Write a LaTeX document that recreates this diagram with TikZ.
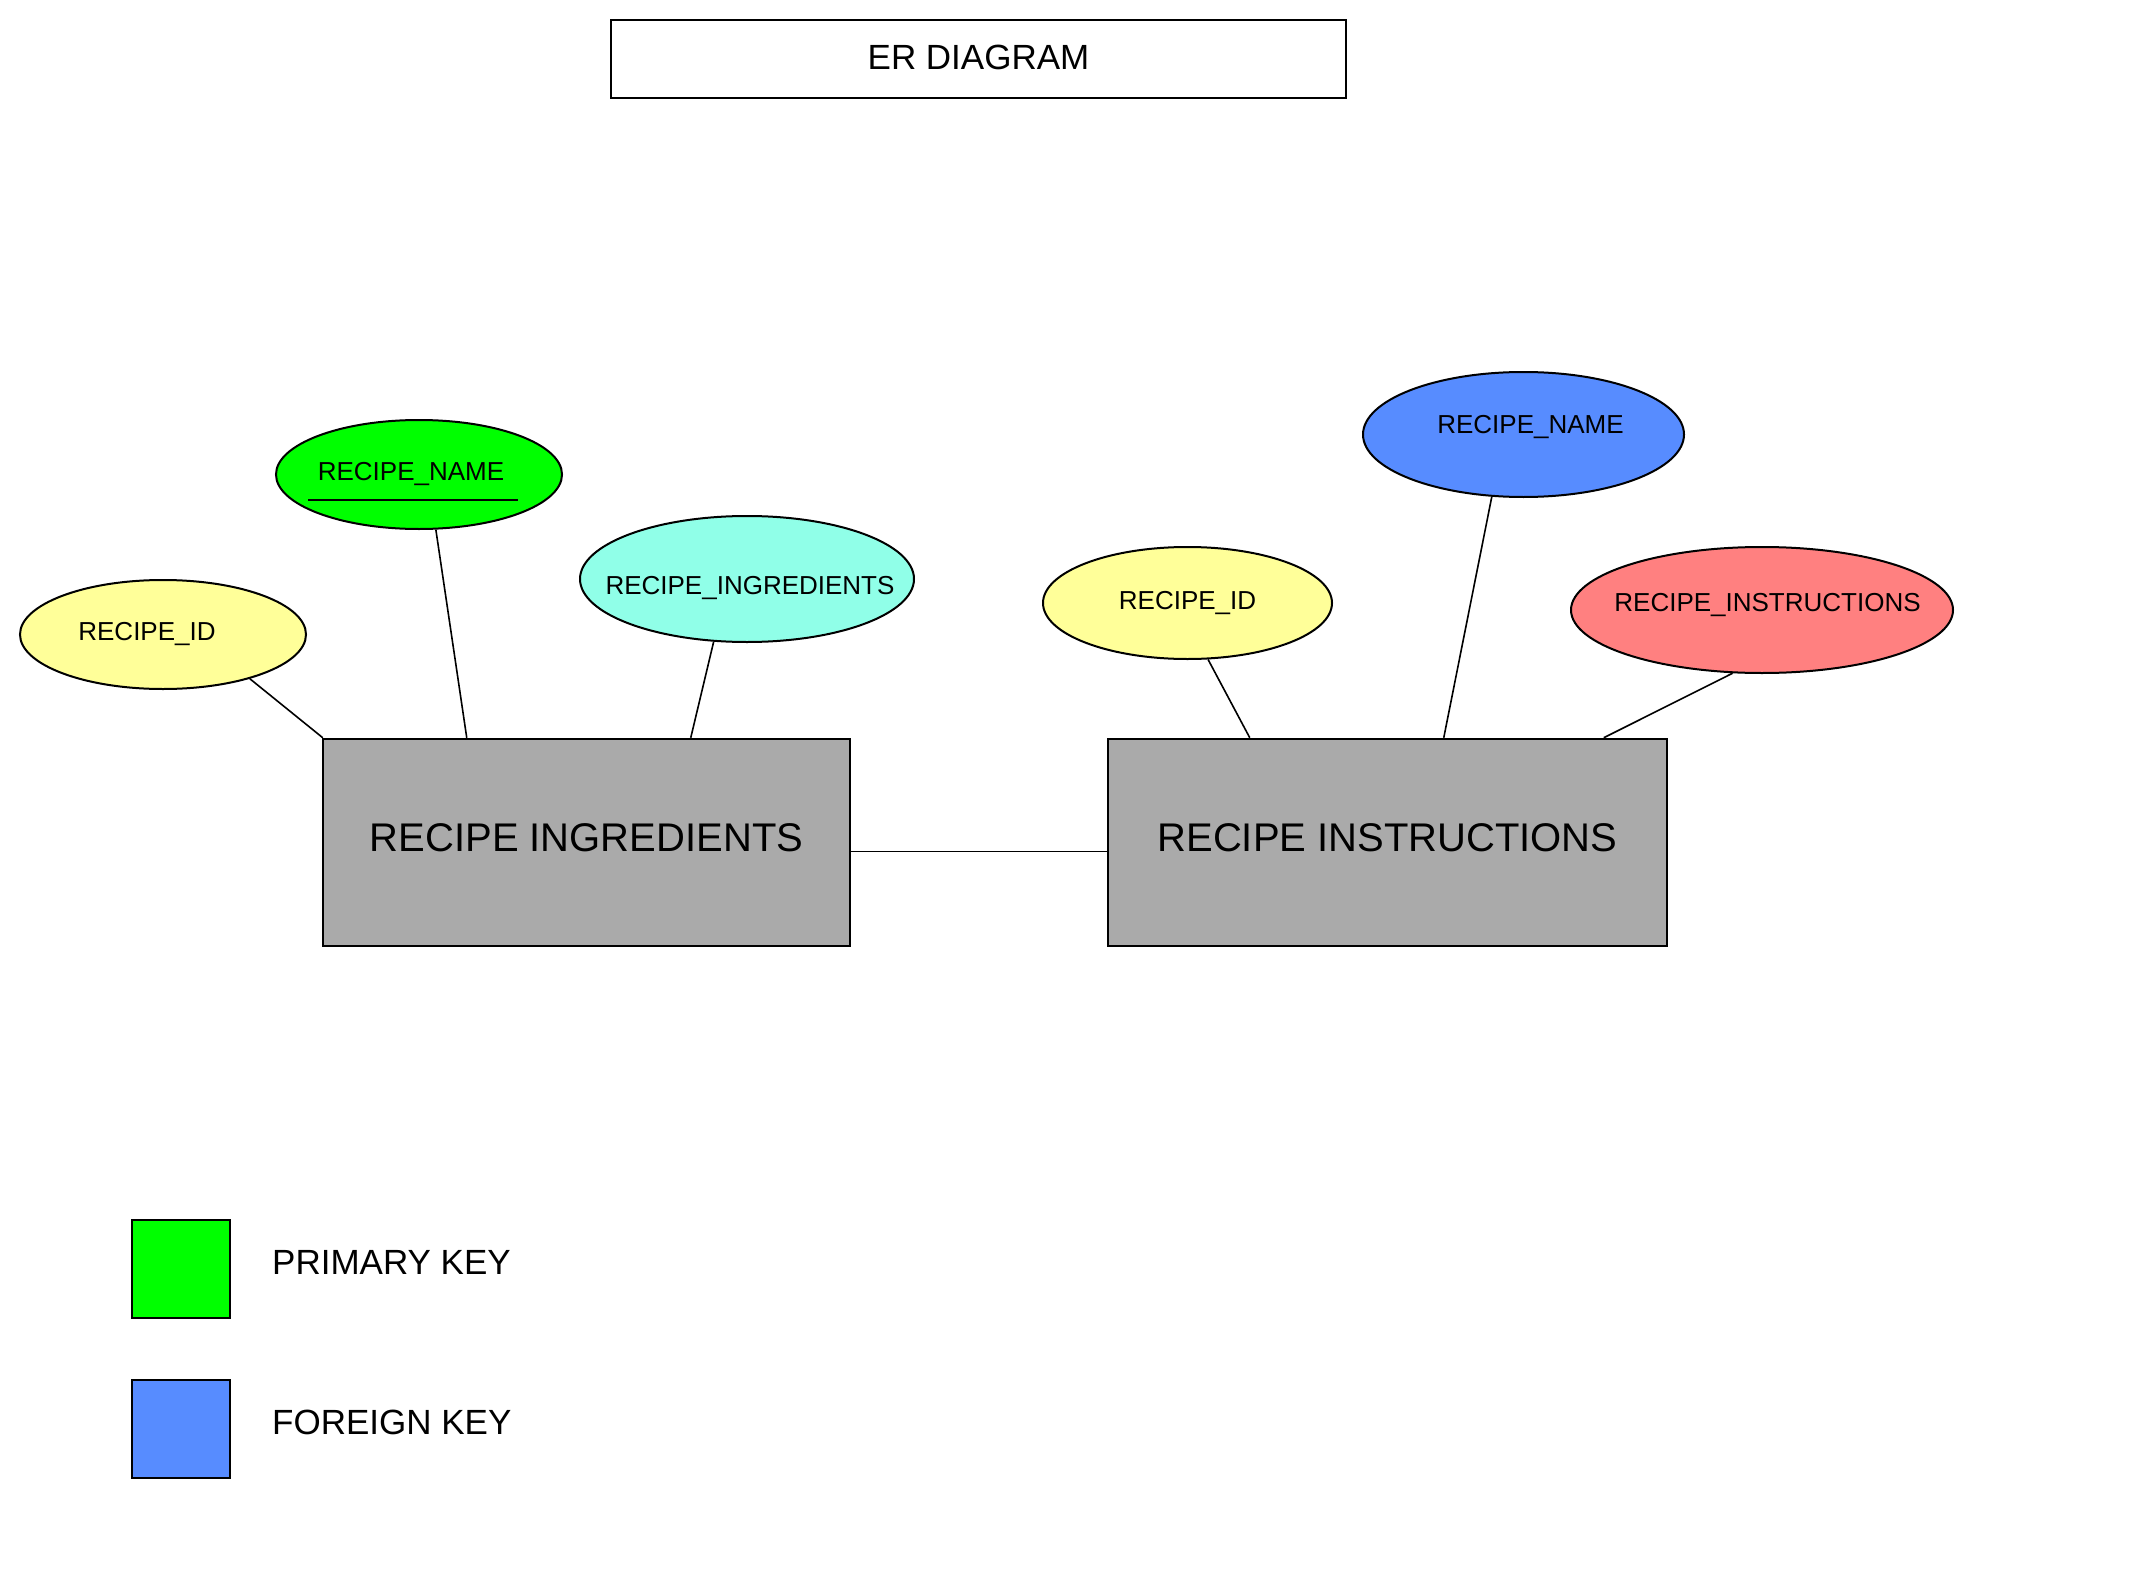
\documentclass[tikz,border=0pt]{standalone}
\usepackage{fontspec}
\setmainfont{Liberation Sans}
\usetikzlibrary{shapes.geometric}
\definecolor{pkgreen}{HTML}{00FF00}
\definecolor{fkblue}{HTML}{578CFF}
\definecolor{attryellow}{HTML}{FFFF99}
\definecolor{attrcyan}{HTML}{90FFE8}
\definecolor{attrred}{HTML}{FF8080}
\definecolor{entgray}{HTML}{AAAAAA}
\newcommand{\zw}[1]{\makebox[0pt][c]{#1}}
\begin{document}
\begin{tikzpicture}[x=1pt,y=-1pt,
  titlebox/.style={rectangle,draw=black,line width=2pt,fill=white,inner sep=0pt,
    minimum width=735pt,minimum height=78pt,font=\fontsize{35}{42}\selectfont},
  attr/.style={ellipse,draw=black,line width=2pt,inner sep=0pt,
    font=\fontsize{26}{31}\selectfont},
  entity/.style={rectangle,draw=black,line width=2.5pt,fill=entgray,inner sep=0pt,
    minimum height=207pt,font=\fontsize{40}{48}\selectfont},
  conn/.style={draw=black,line width=1.6pt},
  legendbox/.style={rectangle,draw=black,line width=2pt,minimum size=98pt,inner sep=0pt},
  legendtext/.style={anchor=west,inner sep=0pt,font=\fontsize{35}{42}\selectfont}]
\useasboundingbox[fill=white] (0,0) rectangle (2146,1578);

% title
\node[titlebox] (title) at (978.5,59) {ER DIAGRAM\rule[-4pt]{0pt}{1pt}};

% entities
\node[entity,minimum width=527pt] (e1) at (586.5,842.5) {RECIPE INGREDIENTS\rule[-9pt]{0pt}{1pt}};
\node[entity,minimum width=559pt] (e2) at (1387.5,842.5) {RECIPE INSTRUCTIONS\rule[-9pt]{0pt}{1pt}};

% attributes of RECIPE INGREDIENTS
\node[attr,fill=attryellow,minimum width=286pt,minimum height=109pt] (id1) at (163,634.5) {\zw{RECIPE\_ID\kern32pt}};
\node[attr,fill=pkgreen,minimum width=286pt,minimum height=109pt] (rn1) at (419,474.5) {\zw{RECIPE\_NAME\kern16pt}};
\node[attr,fill=attrcyan,minimum width=334pt,minimum height=126pt] (ing) at (747,579) {\zw{\kern6pt RECIPE\_INGREDIENTS\rule{0pt}{36pt}}};

% attributes of RECIPE INSTRUCTIONS
\node[attr,fill=attryellow,minimum width=289pt,minimum height=112pt] (id2) at (1187.5,603) {\zw{RECIPE\_ID}};
\node[attr,fill=fkblue,minimum width=321pt,minimum height=125pt] (rn2) at (1523.5,434.5) {\zw{\kern14pt RECIPE\_NAME\rule[-20pt]{0pt}{1pt}}};
\node[attr,fill=attrred,minimum width=382pt,minimum height=126pt] (ins) at (1762,610) {\zw{\kern11pt RECIPE\_INSTRUCTIONS\rule[-16pt]{0pt}{1pt}}};

% primary key underline
\draw[line width=2pt] ([shift={(-111pt,-25pt)}]rn1.center) -- ([shift={(99pt,-25pt)}]rn1.center);

% connection points on entity tops
\coordinate (a1) at ([xshift=1pt]e1.north west);
\coordinate (a2) at ([xshift=145pt]e1.north west);
\coordinate (a3) at ([xshift=369pt]e1.north west);
\coordinate (b1) at ([xshift=143pt]e2.north west);
\coordinate (b2) at ([xshift=337pt]e2.north west);
\coordinate (b3) at ([xshift=497pt]e2.north west);

% connectors
\draw[conn] (id1.-27) -- (a1);
\draw[conn] (rn1.-73) -- (a2);
\draw[conn] (ing.-118) -- (a3);
\draw[conn] (id2.-70) -- (b1);
\draw[conn] (rn2.-117) -- (b2);
\draw[conn] (ins.-115) -- (b3);
\draw[conn] ([yshift=-9pt]e1.east) -- ([yshift=-9pt]e2.west);

% legend
\node[legendbox,fill=pkgreen] (pk) at (181,1269) {};
\node[legendbox,fill=fkblue] (fk) at (181,1429) {};
\node[legendtext] (pkt) at (272,1262) {PRIMARY KEY};
\node[legendtext] (fkt) at (272,1422) {FOREIGN KEY};
\end{tikzpicture}
\end{document}
